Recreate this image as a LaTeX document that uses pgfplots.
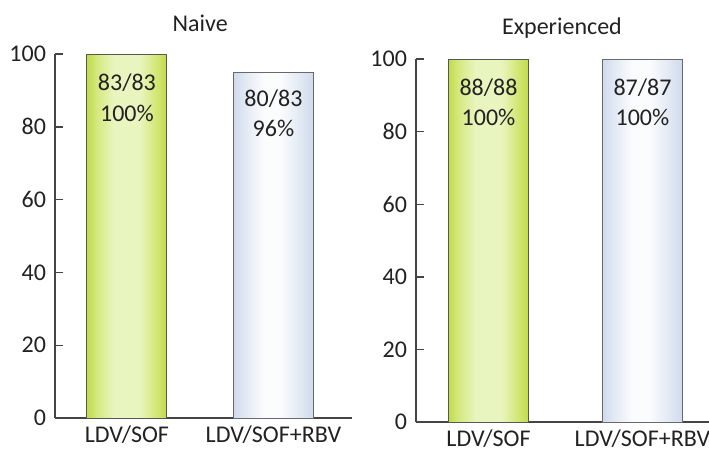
\documentclass[border=0pt]{standalone}
\usepackage{fontspec}
\setmainfont{Carlito}
\usepackage{pgfplots}
\pgfplotsset{compat=1.18}
\definecolor{axc}{HTML}{444444}
\definecolor{txt}{HTML}{222222}
\definecolor{gE}{HTML}{C2DB4A}
\definecolor{gA}{HTML}{D3E97E}
\definecolor{gM}{HTML}{E9F5BF}
\definecolor{gB}{HTML}{D3E777}
\definecolor{bE}{HTML}{CFDAEC}
\definecolor{bA}{HTML}{E2E9F4}
\definecolor{bM}{HTML}{FBFCFE}
\definecolor{bB}{HTML}{E1E8F3}
\pgfdeclarehorizontalshading{gshade}{100bp}{%
  color(0bp)=(gE); color(25bp)=(gE); color(31bp)=(gA); color(42bp)=(gM);
  color(58bp)=(gM); color(68bp)=(gB); color(75bp)=(gE); color(100bp)=(gE)}
\pgfdeclarehorizontalshading{bshade}{100bp}{%
  color(0bp)=(bE); color(25bp)=(bE); color(32bp)=(bA); color(44bp)=(bM);
  color(54bp)=(bM); color(67bp)=(bB); color(75bp)=(bE); color(100bp)=(bE)}
\pgfplotsset{
  panel/.style={
    scale only axis,
    anchor=south west,
    ymin=0, ymax=100,
    ytick={0,20,40,60,80,100},
    xtick={0,1},
    xticklabels={LDV/SOF,LDV/SOF+RBV},
    axis x line=bottom, axis y line=left,
    axis line style={-, draw=axc, line width=0.7pt},
    ytick style={draw=axc, line width=0.7pt},
    major tick length=4pt,
    tick align=inside,
    xtick style={draw=none},
    /pgf/number format/assume math mode=true,
    tick label style={font=\fontsize{12}{14}\selectfont, text=txt},
    yticklabel style={xshift=-1pt},
    xticklabel style={yshift=-0.5pt},
    clip=false,
  },
  gbar/.style={ybar, bar shift=0pt, bar width=40pt, draw=axc!90, line width=0.5pt,
    shade, shading=gshade},
  bbar/.style={ybar, bar shift=0pt, bar width=40pt, draw=axc!80, line width=0.5pt,
    shade, shading=bshade},
}
\begin{document}
\begin{tikzpicture}
\useasboundingbox (0,0) rectangle (354.5pt,226pt);
\begin{axis}[panel, at={(27.5pt,17pt)}, width=148.5pt, height=182pt,
  xmin=-0.491, xmax=1.536]
  \addplot[gbar] coordinates {(0,100)};
  \addplot[bbar] coordinates {(1,95)};
  \node[font=\fontsize{12}{14}\selectfont, text=txt] at (axis cs:0.5,108.3) {Naive};
  \node[font=\fontsize{12}{14}\selectfont, text=txt] at (axis cs:0,92) {83/83};
  \node[font=\fontsize{12}{14}\selectfont, text=txt] at (axis cs:0,83.8) {100\%};
  \node[font=\fontsize{12}{14}\selectfont, text=txt] at (axis cs:1,87.6) {80/83};
  \node[font=\fontsize{12}{14}\selectfont, text=txt] at (axis cs:1,79.6) {96\%};
\end{axis}
\begin{axis}[panel, at={(208pt,15pt)}, width=146.5pt, height=181.5pt,
  xmin=-0.471, xmax=1.432]
  \addplot[gbar] coordinates {(0,100)};
  \addplot[bbar] coordinates {(1,100)};
  \node[font=\fontsize{12}{14}\selectfont, text=txt] at (axis cs:0.477,108.6) {Experienced};
  \node[font=\fontsize{12}{14}\selectfont, text=txt] at (axis cs:0,92) {88/88};
  \node[font=\fontsize{12}{14}\selectfont, text=txt] at (axis cs:0,84) {100\%};
  \node[font=\fontsize{12}{14}\selectfont, text=txt] at (axis cs:1,92) {87/87};
  \node[font=\fontsize{12}{14}\selectfont, text=txt] at (axis cs:1,84) {100\%};
\end{axis}
\end{tikzpicture}
\end{document}
